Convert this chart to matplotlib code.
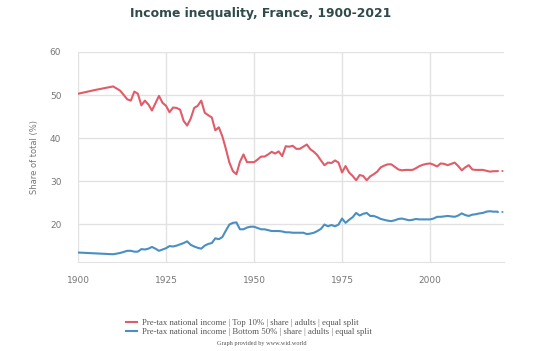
import matplotlib
matplotlib.use("Agg")
import matplotlib.pyplot as plt
from matplotlib.lines import Line2D

# Top 10% share, pre-tax national income (%)
top10_years = [1900, 1905, 1910, 1912, 1914, 1915, 1916, 1917, 1918, 1919, 1920, 1921,
               1923, 1924, 1925, 1926, 1927, 1928, 1929, 1930, 1931, 1932, 1933, 1934,
               1935, 1936, 1937, 1938, 1939, 1940, 1941, 1942, 1943, 1944, 1945, 1946,
               1947, 1948, 1949, 1950, 1951, 1952, 1953, 1954, 1955, 1956, 1957, 1958,
               1959, 1960, 1961, 1962, 1963, 1964, 1965, 1966, 1967, 1968, 1969, 1970,
               1971, 1972, 1973, 1974, 1975, 1976, 1977, 1978, 1979, 1980, 1981, 1982,
               1983, 1984, 1985, 1986, 1987, 1988, 1989, 1990, 1991, 1992, 1993, 1994,
               1995, 1996, 1997, 1998, 1999, 2000, 2001, 2002, 2003, 2004, 2005, 2006,
               2007, 2008, 2009, 2010, 2011, 2012, 2013, 2014, 2015, 2016, 2017, 2018,
               2019]
top10 = [50.3, 51.2, 52.0, 51.0, 49.0, 48.7, 50.8, 50.3, 47.6, 48.7, 47.8, 46.4,
         49.8, 48.2, 47.5, 46.0, 47.1, 47.0, 46.6, 44.0, 42.9, 44.5, 47.0, 47.5,
         48.7, 45.9, 45.3, 44.8, 41.8, 42.5, 40.4, 37.5, 34.3, 32.3, 31.6, 34.5,
         36.2, 34.4, 34.4, 34.4, 35.0, 35.7, 35.7, 36.2, 36.8, 36.4, 36.9, 35.8,
         38.1, 38.0, 38.2, 37.5, 37.5, 38.0, 38.5, 37.4, 36.8, 36.0, 34.8, 33.7,
         34.3, 34.2, 34.8, 34.3, 32.0, 33.5, 32.0, 31.2, 30.2, 31.4, 31.2, 30.2,
         31.1, 31.6, 32.2, 33.2, 33.6, 33.9, 33.9, 33.3, 32.7, 32.5, 32.6, 32.6,
         32.6, 33.0, 33.5, 33.8, 34.0, 34.1, 33.8, 33.4, 34.1, 34.0, 33.7, 34.0,
         34.3, 33.5, 32.5, 33.2, 33.7, 32.7, 32.6, 32.6, 32.6, 32.4, 32.2, 32.3,
         32.3]

# Bottom 50% share
bot50_years = [1900, 1905, 1910, 1912, 1914, 1915, 1916, 1917, 1918, 1919, 1920, 1921,
               1922, 1923, 1924, 1925, 1926, 1927, 1928, 1929, 1930, 1931, 1932, 1933,
               1934, 1935, 1936, 1937, 1938, 1939, 1940, 1941, 1942, 1943, 1944, 1945,
               1946, 1947, 1948, 1949, 1950, 1951, 1952, 1953, 1954, 1955, 1956, 1957,
               1958, 1959, 1960, 1961, 1962, 1963, 1964, 1965, 1966, 1967, 1968, 1969,
               1970, 1971, 1972, 1973, 1974, 1975, 1976, 1977, 1978, 1979, 1980, 1981,
               1982, 1983, 1984, 1985, 1986, 1987, 1988, 1989, 1990, 1991, 1992, 1993,
               1994, 1995, 1996, 1997, 1998, 1999, 2000, 2001, 2002, 2003, 2004, 2005,
               2006, 2007, 2008, 2009, 2010, 2011, 2012, 2013, 2014, 2015, 2016, 2017,
               2018, 2019]
bot50 = [13.4, 13.2, 13.0, 13.3, 13.8, 13.8, 13.6, 13.6, 14.2, 14.1, 14.3, 14.7,
         14.3, 13.8, 14.1, 14.4, 14.9, 14.8, 15.0, 15.3, 15.6, 16.0, 15.2, 14.8,
         14.5, 14.3, 15.0, 15.4, 15.6, 16.7, 16.5, 17.0, 18.5, 19.9, 20.3, 20.4,
         18.8, 18.8, 19.2, 19.4, 19.4, 19.1, 18.8, 18.8, 18.6, 18.4, 18.4, 18.4,
         18.3, 18.1, 18.1, 18.0, 18.0, 18.0, 18.0, 17.7, 17.8, 18.0, 18.4, 18.9,
         19.9, 19.5, 19.8, 19.5, 19.9, 21.3, 20.3, 21.0, 21.6, 22.6, 22.0, 22.4,
         22.6, 21.9, 21.9, 21.6, 21.2, 21.0, 20.8, 20.7, 20.9, 21.2, 21.3, 21.1,
         20.9, 21.0, 21.2, 21.1, 21.1, 21.1, 21.1, 21.3, 21.7, 21.7, 21.8, 21.9,
         21.8, 21.7, 22.0, 22.5, 22.1, 21.9, 22.2, 22.3, 22.5, 22.6, 22.9, 23.0,
         22.9, 22.9]

# projected tail, drawn dotted
tail_years = [2019, 2020, 2021]
top10_tail = [32.3, 32.3, 32.3]
bot50_tail = [22.9, 22.9, 22.9]

labels = ["Pre-tax national income | Top 10% | share | adults | equal split",
          "Pre-tax national income | Bottom 50% | share | adults | equal split"]
red = "#e05c68"
blue = "#4a8fc2"
grey = "#777777"

fig = plt.figure(figsize=(5.4, 3.51), dpi=100)
ax = fig.add_axes([78/540, 1 - 262/351, 426/540, 210/351])

ax.plot(top10_years, top10, color=red, lw=1.5, solid_joinstyle="round")
ax.plot(bot50_years, bot50, color=blue, lw=1.5, solid_joinstyle="round")
ax.plot(tail_years, top10_tail, color=red, lw=1.3, ls=(0, (1, 1.5)))
ax.plot(tail_years, bot50_tail, color=blue, lw=1.3, ls=(0, (1, 1.5)))

ax.set_xlim(1900, 2021)
ax.set_ylim(11.2, 60)
ax.set_xticks([1900, 1925, 1950, 1975, 2000])
ax.set_yticks([20, 30, 40, 50, 60])
ax.grid(True, color="#e2e2e2", lw=1)
ax.set_axisbelow(True)
for side in ["top", "right", "left"]:
    ax.spines[side].set_visible(False)
ax.spines["bottom"].set_color("#e2e2e2")
ax.tick_params(length=0, labelsize=6.5, labelcolor=grey)
ax.tick_params(axis="y", pad=12)
ax.tick_params(axis="x", pad=10)
ax.set_ylabel("Share of total (%)", fontsize=6, color=grey, labelpad=8)

fig.suptitle("Income inequality, France, 1900-2021", x=0.482, y=0.98,
             fontsize=8.9, fontweight="heavy", color="#2f4a4a")

handles = [Line2D([0], [0], color=red, lw=1.5), Line2D([0], [0], color=blue, lw=1.5)]
fig.legend(handles, labels, loc="upper left", bbox_to_anchor=(0.225, 0.105),
           frameon=False, handlelength=1.3, handletextpad=0.6, labelspacing=0.15,
           borderpad=0, prop={"family": "Liberation Serif", "size": 6.3}, labelcolor="#555555")
fig.text(0.485, 0.022, "Graph provided by www.wid.world", ha="center", va="center",
         fontsize=4.5, family="Liberation Serif", color="#555555")

fig.savefig("out.png", dpi=100)
